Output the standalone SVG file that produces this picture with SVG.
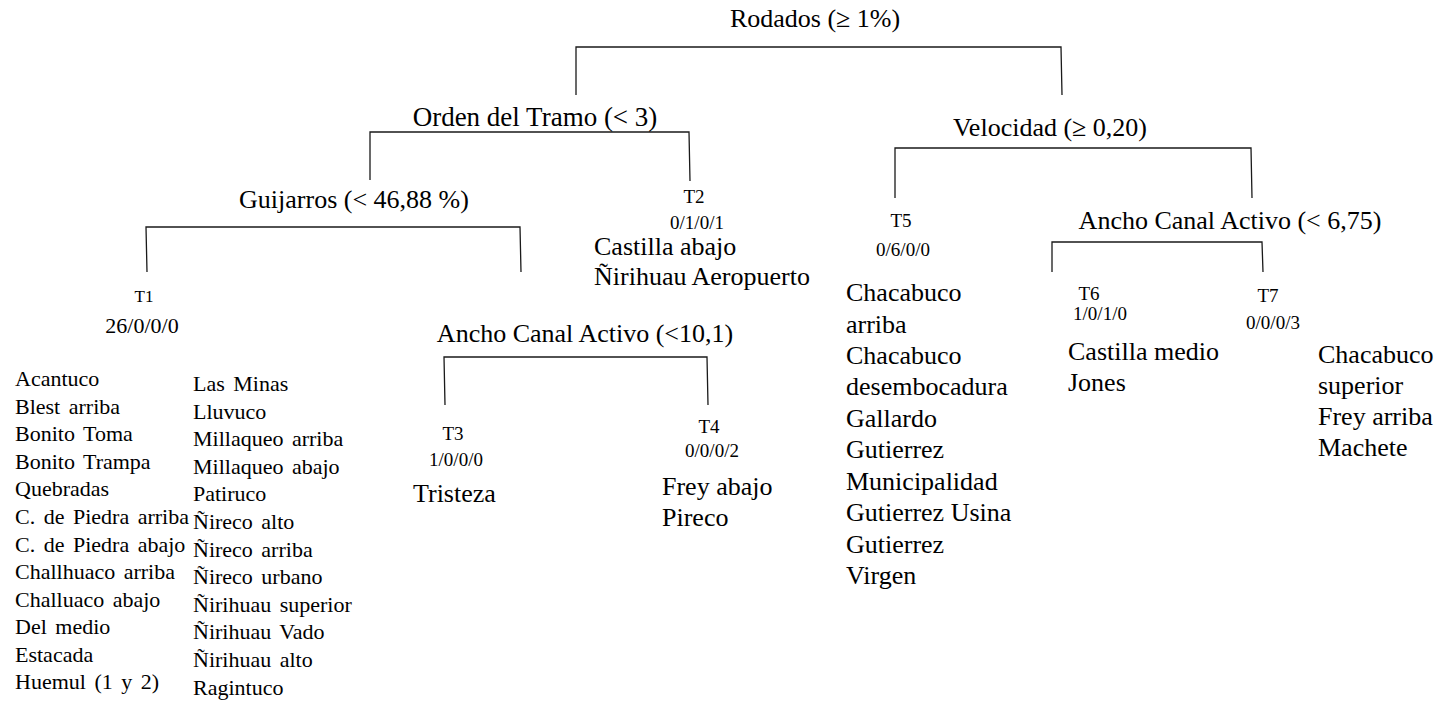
<svg xmlns="http://www.w3.org/2000/svg" width="1443" height="704" viewBox="0 0 1443 704">
  <style>
    .split { font-size: 26px; text-anchor: middle; }
    .tag { font-size: 19px; text-anchor: middle; }
    .count { font-size: 19px; text-anchor: middle; }
    .site { font-size: 26px; }
    .small { font-size: 22px; word-spacing: 3px; }
    .edge { fill: none; stroke: #1a1a1a; stroke-width: 1.3; }
  </style>
  <rect width="1443" height="704" fill="#fff"/>

  <!-- connectors: one bracket per split -->
  <g id="connectors">
    <path class="edge" d="M576,95 L576,47 L1061,47 L1062,95"/>
    <path class="edge" d="M370,180 L370,132 L689,132 L690,181"/>
    <path class="edge" d="M895,198 L895,148 L1251,148 L1252,198"/>
    <path class="edge" d="M147,272 L146,227 L520,227 L521,272"/>
    <path class="edge" d="M445,405 L444,357 L707,357 L708,405"/>
    <path class="edge" d="M1052,272 L1052,242 L1262,242 L1263,272"/>
  </g>

  <g font-family="Liberation Serif, Times New Roman, DejaVu Serif, serif" fill="#000">
  <!-- split nodes -->
  <g id="split-rodados"><text class="split" x="815" y="27">Rodados (≥ 1%)</text></g>
  <g id="split-orden"><text class="split" x="535" y="126" style="font-size:27px">Orden del Tramo (&lt; 3)</text></g>
  <g id="split-velocidad"><text class="split" x="1050" y="136">Velocidad (≥ 0,20)</text></g>
  <g id="split-guijarros"><text class="split" x="354" y="208">Guijarros (&lt; 46,88 %)</text></g>
  <g id="split-ancho-1"><text class="split" x="585" y="342">Ancho Canal Activo (&lt;10,1)</text></g>
  <g id="split-ancho-2"><text class="split" x="1230" y="229">Ancho Canal Activo (&lt; 6,75)</text></g>

  <!-- leaf T1 -->
  <g id="leaf-t1">
    <text class="tag" x="144" y="302" style="font-size:17px">T1</text>
    <text class="count" x="142" y="333" style="font-size:22px">26/0/0/0</text>
    <g class="small">
      <text x="15" y="386">Acantuco</text>
      <text x="15" y="414">Blest arriba</text>
      <text x="15" y="441">Bonito Toma</text>
      <text x="15" y="469">Bonito Trampa</text>
      <text x="15" y="496">Quebradas</text>
      <text x="15" y="524">C. de Piedra arriba</text>
      <text x="15" y="552">C. de Piedra abajo</text>
      <text x="15" y="579">Challhuaco arriba</text>
      <text x="15" y="607">Challuaco abajo</text>
      <text x="15" y="634">Del medio</text>
      <text x="15" y="662">Estacada</text>
      <text x="15" y="689">Huemul (1 y 2)</text>
      <text x="193" y="391">Las Minas</text>
      <text x="193" y="419">Lluvuco</text>
      <text x="193" y="446">Millaqueo arriba</text>
      <text x="193" y="474">Millaqueo abajo</text>
      <text x="193" y="501">Patiruco</text>
      <text x="193" y="529">Ñireco alto</text>
      <text x="193" y="557">Ñireco arriba</text>
      <text x="193" y="584">Ñireco urbano</text>
      <text x="193" y="612">Ñirihuau superior</text>
      <text x="193" y="639">Ñirihuau Vado</text>
      <text x="193" y="667">Ñirihuau alto</text>
      <text x="193" y="695">Ragintuco</text>
    </g>
  </g>

  <!-- leaf T2 -->
  <g id="leaf-t2">
    <text class="tag" x="694" y="203">T2</text>
    <text class="count" x="697" y="229">0/1/0/1</text>
    <text class="site" x="594" y="255">Castilla abajo</text>
    <text class="site" x="594" y="285">Ñirihuau Aeropuerto</text>
  </g>

  <!-- leaf T3 -->
  <g id="leaf-t3">
    <text class="tag" x="453" y="440">T3</text>
    <text class="count" x="456" y="466">1/0/0/0</text>
    <text class="site" x="413" y="502">Tristeza</text>
  </g>

  <!-- leaf T4 -->
  <g id="leaf-t4">
    <text class="tag" x="709" y="433">T4</text>
    <text class="count" x="712" y="457">0/0/0/2</text>
    <text class="site" x="662" y="495">Frey abajo</text>
    <text class="site" x="662" y="526">Pireco</text>
  </g>

  <!-- leaf T5 -->
  <g id="leaf-t5">
    <text class="tag" x="901" y="227">T5</text>
    <text class="count" x="903" y="256">0/6/0/0</text>
    <text class="site" x="846" y="301">Chacabuco</text>
    <text class="site" x="846" y="333">arriba</text>
    <text class="site" x="846" y="364">Chacabuco</text>
    <text class="site" x="846" y="395">desembocadura</text>
    <text class="site" x="846" y="427">Gallardo</text>
    <text class="site" x="846" y="458">Gutierrez</text>
    <text class="site" x="846" y="490">Municipalidad</text>
    <text class="site" x="846" y="521">Gutierrez Usina</text>
    <text class="site" x="846" y="553">Gutierrez</text>
    <text class="site" x="846" y="584">Virgen</text>
  </g>

  <!-- leaf T6 -->
  <g id="leaf-t6">
    <text class="tag" x="1089" y="300">T6</text>
    <text class="count" x="1100" y="320">1/0/1/0</text>
    <text class="site" x="1068" y="360">Castilla medio</text>
    <text class="site" x="1068" y="391">Jones</text>
  </g>

  <!-- leaf T7 -->
  <g id="leaf-t7">
    <text class="tag" x="1268" y="302">T7</text>
    <text class="count" x="1273" y="329">0/0/0/3</text>
    <text class="site" x="1318" y="363">Chacabuco</text>
    <text class="site" x="1318" y="394">superior</text>
    <text class="site" x="1318" y="425">Frey arriba</text>
    <text class="site" x="1318" y="456">Machete</text>
  </g>
  </g>
</svg>
